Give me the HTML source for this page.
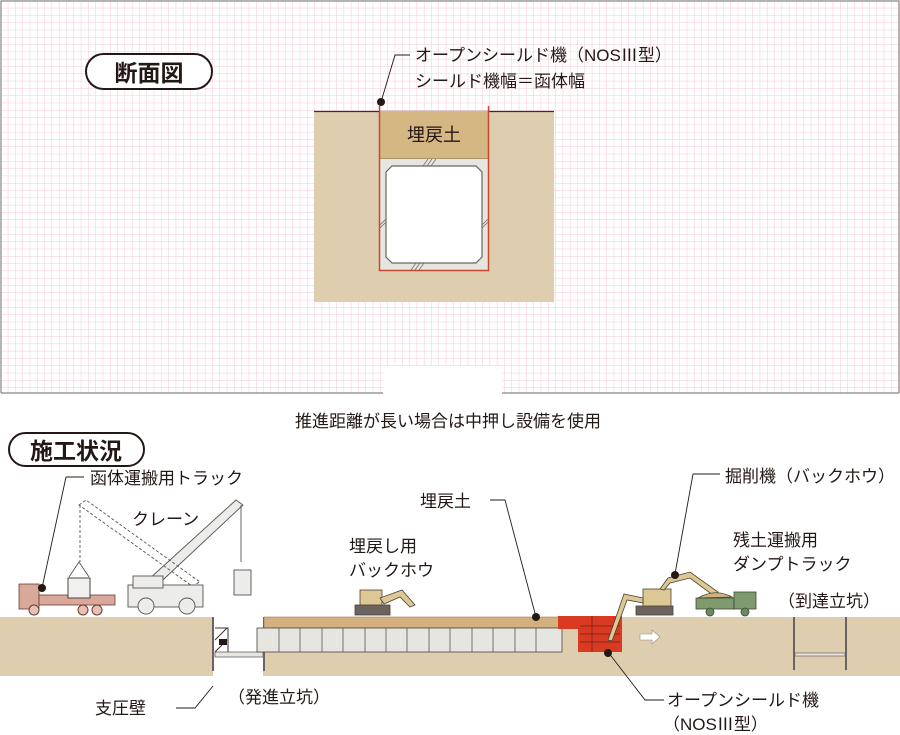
<!DOCTYPE html>
<html><head><meta charset="utf-8"><style>
html,body{margin:0;padding:0;background:#fff}
svg{display:block}
text{font-family:"Liberation Sans","Noto Sans CJK JP",sans-serif;fill:#231815}
</style></head><body>
<svg width="900" height="735" viewBox="0 0 900 735" xmlns="http://www.w3.org/2000/svg">
<defs>
<pattern id="g" width="7.3" height="7.3" patternUnits="userSpaceOnUse" x="1" y="1">
<path d="M7.3 0V7.3M0 7.3H7.3" stroke="#f5c8d5" stroke-width="1" fill="none"/>
</pattern>
</defs>
<rect x="1" y="1" width="898" height="392" fill="url(#g)"/>
<path d="M1 393V1H899V393" fill="none" stroke="#8a8380" stroke-width="1.2"/>
<path d="M1 393H383M502 393H899" stroke="#8a8380" stroke-width="1.2"/>
<rect x="383" y="366" width="119" height="28" fill="#fff"/>
<rect x="86" y="54" width="126" height="35" rx="17.5" fill="#fff" stroke="#231815" stroke-width="2"/>
<text x="149" y="81" font-size="23" font-weight="bold" text-anchor="middle">断面図</text>
<rect x="314" y="111" width="240" height="191" fill="#dfcdb0"/>
<line x1="314" y1="111.5" x2="554" y2="111.5" stroke="#3a2e28" stroke-width="1.3"/>
<rect x="379" y="111" width="110" height="48" fill="#d4b782"/>
<line x1="379" y1="159" x2="489" y2="159" stroke="#6b5a4a" stroke-width="0.8"/>
<rect x="379" y="159" width="110" height="111" fill="#e6e5e0"/>
<path d="M392 166H476L482 172V257L476 263H392L386 257V172Z" fill="#fff" stroke="#6b6360" stroke-width="1.2"/>
<path d="M428 159L423 166M432 159L427 166M436 159L431 166M380 225L386 219M380 228L386 222M482 225L488 219M482 228L488 222M416 263L411 270M420 263L415 270M424 263L419 270" stroke="#7a7370" stroke-width="0.8"/>
<path d="M379.5 106V270.5H488.5V106" fill="none" stroke="#c8472f" stroke-width="1.5"/>
<circle cx="381" cy="102" r="4" fill="#231815"/>
<path d="M381 102L395 55H410" fill="none" stroke="#231815" stroke-width="0.9"/>
<text x="415" y="61" font-size="17">オープンシールド機（NOSⅢ型）</text>
<text x="415" y="87" font-size="17">シールド機幅＝函体幅</text>
<text x="434" y="141" font-size="18" text-anchor="middle">埋戻土</text>
<text x="448" y="427" font-size="17" text-anchor="middle">推進距離が長い場合は中押し設備を使用</text>
<rect x="9" y="433" width="135" height="33" rx="16.5" fill="#fff" stroke="#231815" stroke-width="2"/>
<text x="76" y="459" font-size="23" font-weight="bold" text-anchor="middle">施工状況</text>
<rect x="0" y="617" width="900" height="59" fill="#dfcdb0"/>
<rect x="213" y="617" width="50" height="59" fill="#fff"/>
<line x1="213" y1="617" x2="213" y2="671" stroke="#6b6360" stroke-width="2"/>
<line x1="264" y1="617" x2="264" y2="671" stroke="#6b6360" stroke-width="2"/>
<rect x="215" y="652" width="48" height="5" fill="#e6e5e0" stroke="#6b6360" stroke-width="0.8"/>
<path d="M215 628H228V652M215 640L227 628M215 652L227 640" fill="none" stroke="#3a2e28" stroke-width="1"/>
<rect x="219" y="639" width="8" height="6" fill="#231815"/>
<rect x="264" y="617" width="300" height="11" fill="#d4b07f" stroke="#8a7050" stroke-width="0.5"/>
<rect x="257" y="628" width="305" height="24" fill="#e6e5e0" stroke="#4a4440" stroke-width="0.8"/>
<g stroke="#5a5450" stroke-width="0.8">
<line x1="279" y1="628" x2="279" y2="652"/><line x1="300" y1="628" x2="300" y2="652"/><line x1="322" y1="628" x2="322" y2="652"/><line x1="343" y1="628" x2="343" y2="652"/><line x1="365" y1="628" x2="365" y2="652"/><line x1="386" y1="628" x2="386" y2="652"/><line x1="407" y1="628" x2="407" y2="652"/><line x1="429" y1="628" x2="429" y2="652"/><line x1="450" y1="628" x2="450" y2="652"/><line x1="472" y1="628" x2="472" y2="652"/><line x1="493" y1="628" x2="493" y2="652"/><line x1="515" y1="628" x2="515" y2="652"/><line x1="536" y1="628" x2="536" y2="652"/>
</g>
<rect x="558" y="616" width="35" height="13" fill="#d83a22"/>
<rect x="578" y="616" width="44" height="36" fill="#d83a22"/>
<g stroke="#7a2015" stroke-width="0.8"><line x1="580" y1="626" x2="620" y2="626"/><line x1="580" y1="634" x2="620" y2="634"/><line x1="580" y1="642" x2="620" y2="642"/><line x1="592" y1="616" x2="592" y2="652"/></g>
<path d="M640 634H652V630L660 637L652 644V640H640Z" fill="#fff" stroke="#9a8a70" stroke-width="0.6"/>
<line x1="794" y1="617" x2="794" y2="670" stroke="#6b6360" stroke-width="2"/>
<line x1="846" y1="617" x2="846" y2="670" stroke="#6b6360" stroke-width="2"/>
<rect x="795" y="653" width="50" height="3" fill="#e6e5e0" stroke="#6b6360" stroke-width="0.7"/>
<g>
<rect x="19" y="584" width="20" height="25" fill="#d9a89a" stroke="#6b3a30" stroke-width="0.8"/>
<rect x="39" y="595" width="76" height="10" fill="#d9a89a" stroke="#6b3a30" stroke-width="0.8"/>
<rect x="68" y="578" width="22" height="20" fill="#f0f0ee" stroke="#4a4440" stroke-width="1"/>
<path d="M69 577L79 562L89 577" fill="none" stroke="#4a4440" stroke-width="0.8"/>
<circle cx="34" cy="610" r="5" fill="#e8c0b5" stroke="#6b3a30"/><circle cx="83" cy="610" r="5" fill="#e8c0b5" stroke="#6b3a30"/><circle cx="97" cy="610" r="5" fill="#e8c0b5" stroke="#6b3a30"/>
</g>
<g stroke="#5a5450" stroke-width="0.9" fill="#ececea">
<path d="M137 590L236 500L243 505L150 592Z"/>
<path d="M79 505L86 500L200 582L192 586Z" fill="none" stroke-dasharray="3 2"/>
<rect x="128" y="585" width="75" height="22"/>
<rect x="133" y="576" width="30" height="12"/>
<circle cx="146" cy="606" r="8"/><circle cx="187" cy="606" r="8"/>
<line x1="241" y1="505" x2="241" y2="562"/><line x1="80" y1="505" x2="80" y2="562" stroke-dasharray="3 2"/>
<rect x="234" y="570" width="17" height="25"/>
</g>
<g fill="#dcc795" stroke="#4a4030" stroke-width="0.8">
<rect x="360" y="590" width="22" height="16"/><rect x="355" y="605" width="35" height="10" fill="#6b6360"/>
<path d="M380 598L402 590L415 605L410 607L400 597L384 604Z"/>
</g>
<g fill="#dcc795" stroke="#4a4030" stroke-width="0.8">
<rect x="643" y="589" width="28" height="18"/><rect x="636" y="606" width="37" height="9" fill="#6b6360"/>
<path d="M643 598L624 594L608 640L612 641L627 600L643 603Z"/>
<path d="M660 589L668 578L690 572L718 592L714 596L690 578L670 583L664 590Z"/>
</g>
<g stroke="#3a4a30" stroke-width="0.8">
<rect x="696" y="598" width="38" height="11" fill="#7f9a6f"/>
<path d="M698 598Q715 588 732 597Z" fill="#d4b07f"/>
<rect x="734" y="592" width="22" height="17" fill="#7f9a6f"/>
<circle cx="710" cy="612" r="4" fill="#6b8a5f"/><circle cx="745" cy="612" r="4" fill="#6b8a5f"/>
</g>
<g fill="none" stroke="#231815" stroke-width="0.9">
<path d="M66 477H84M66 477L42 588"/>
<path d="M176 708L195 708L213 686"/>
<path d="M490 500H505L536 617"/>
<path d="M693 474H720M693 474L675 574"/>
<path d="M608 652L645 700H664"/>
</g>
<circle cx="42" cy="588" r="4" fill="#231815"/>
<circle cx="536" cy="617" r="4" fill="#231815"/>
<circle cx="675" cy="575" r="4" fill="#231815"/>
<circle cx="608" cy="653" r="4" fill="#231815"/>
<g font-size="17">
<text x="90" y="484">函体運搬用トラック</text>
<text x="132" y="525">クレーン</text>
<text x="349" y="552">埋戻し用</text>
<text x="349" y="576">バックホウ</text>
<text x="420" y="507">埋戻土</text>
<text x="725" y="482">掘削機（バックホウ）</text>
<text x="733" y="546">残土運搬用</text>
<text x="733" y="570">ダンプトラック</text>
<text x="778" y="607">（到達立坑）</text>
<text x="95" y="714">支圧壁</text>
<text x="228" y="703">（発進立坑）</text>
<text x="667" y="706">オープンシールド機</text>
<text x="663" y="730">（NOSⅢ型）</text>
</g>
</svg>
</body></html>
